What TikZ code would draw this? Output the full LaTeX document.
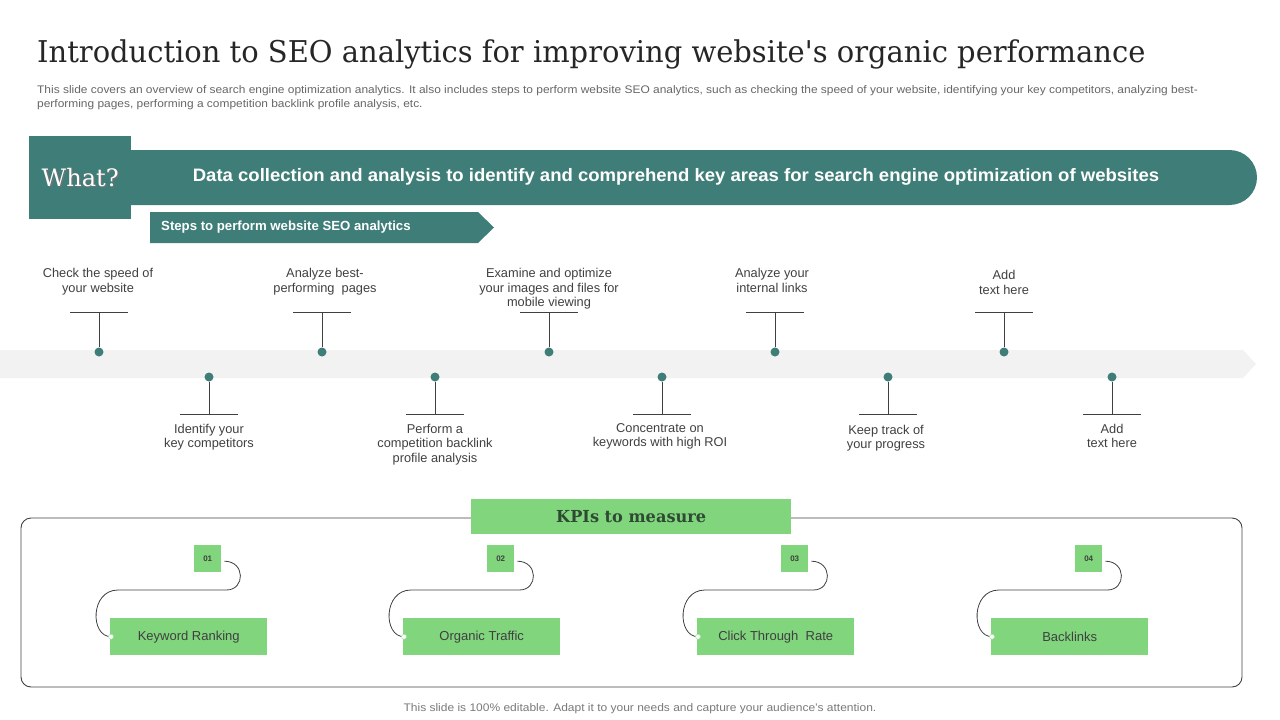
\documentclass[tikz,border=0pt]{standalone}
\usepackage{fontspec}
\setmainfont{Liberation Sans}
\newfontfamily\slab{DejaVu Serif}
\definecolor{tealc}{HTML}{3F7E78}
\definecolor{greenc}{HTML}{80D57D}
\definecolor{bandc}{HTML}{F2F2F2}
\definecolor{txtc}{HTML}{404040}
\definecolor{kpitxt}{HTML}{2F4A33}
\newcommand{\fs}[2]{\fontsize{#1}{#2}\selectfont}
\begin{document}
\begin{tikzpicture}[x=1pt,y=-1pt,
  itemtext/.style={align=center,inner sep=0pt,font=\fs{12.8}{14.5},text=txtc},
  dotc/.style={circle,fill=tealc,minimum size=9pt,inner sep=0pt},
  stem/.style={draw=txtc,line width=0.8pt},
  numbox/.style={fill=greenc,minimum width=27pt,minimum height=27pt,inner sep=0pt,font=\bfseries\fs{8}{9},text=txtc},
  kpibox/.style={fill=greenc,minimum width=157pt,minimum height=37pt,inner sep=0pt,font=\fs{13}{15},text=txtc},
  curvec/.style={draw=txtc,line width=0.8pt},
  endc/.style={circle,fill=white,draw=greenc!70!white,line width=0.5pt,minimum size=5pt,inner sep=0pt}]
\useasboundingbox (0,0) rectangle (1280,720);
% title
\node[anchor=west,inner sep=0pt,text=black!85] (title) at (37,54)
  {\scalebox{0.965}[1]{\slab\fs{30}{32}Introduction to SEO analytics for improving website's organic performance}};
\node[anchor=north west,inner sep=0pt,align=left,text=txtc!80] (sub) at (37,83)
  {\scalebox{1.085}[1]{\fs{11}{14}\begin{tabular}{@{}l@{}}This slide covers an overview of search engine optimization analytics. It also includes steps to perform website SEO analytics, such as checking the speed of your website, identifying your key competitors, analyzing best-\\performing pages, performing a competition backlink profile analysis, etc.\end{tabular}}};
% banner
\fill[tealc] (131,150) -- (1229.5,150) arc[start angle=-90,end angle=90,radius=27.5] -- (131,205) -- cycle;
\node[fill=tealc,minimum width=102pt,minimum height=83pt,inner sep=0pt,anchor=north west] (what) at (29,136) {};
\node[text=black!55,font=\slab\fs{24}{26}] at ([xshift=1.3pt,yshift=-1.3pt]what.center) {What?};
\node[text=white,font=\slab\fs{24}{26}] (whatt) at (what.center) {What?};
\node[text=white,font=\bfseries\fs{18}{20},inner sep=0pt] (bantxt) at (676,177)
  {\scalebox{1.03}[1]{Data collection and analysis to identify and comprehend key areas for search engine optimization of websites}};
% steps ribbon
\fill[tealc] (150,212) -- (478,212) -- (494,227.5) -- (478,243) -- (150,243) -- cycle;
\node[anchor=west,text=white,font=\bfseries\fs{13.2}{15},inner sep=0pt] (steps) at (161,227.5) {Steps to perform website SEO analytics};
% band
\fill[bandc] (0,350) -- (1243,350) -- (1256,364) -- (1243,378) -- (0,378) -- cycle;
% top items
\foreach \i/\x in {1/99,3/322,5/549,7/775,9/1004}{
  \node[dotc] (d\i) at (\x,352) {};
  \coordinate (h\i) at (\x,312);
  \draw[stem] (d\i) -- (h\i);
  \draw[stem] ([xshift=-29pt]h\i) -- ([xshift=29pt]h\i);
}
\node[itemtext,anchor=north] (t1) at (98,268.5) {Check the speed of\\your website};
\node[itemtext,anchor=north] (t3) at (325,268.5) {Analyze best-\\performing\ \ pages};
\node[itemtext,anchor=north] (t5) at (549,268.5) {Examine and optimize\\your images and files for\\mobile viewing};
\node[itemtext,anchor=north] (t7) at (772,268.5) {Analyze your\\internal links};
\node[itemtext,anchor=north] (t9) at (1004,270.5) {Add\\text here};
% bottom items
\foreach \i/\x in {2/209,4/435,6/662,8/888,10/1112}{
  \node[dotc] (d\i) at (\x,377) {};
  \coordinate (h\i) at (\x,414);
  \draw[stem] (d\i) -- (h\i);
  \draw[stem] ([xshift=-29pt]h\i) -- ([xshift=29pt]h\i);
}
\node[itemtext,anchor=north] (t2) at (209,424) {Identify your\\key competitors};
\node[itemtext,anchor=north] (t4) at (435,424) {Perform a\\competition backlink\\profile analysis};
\node[itemtext,anchor=north] (t6) at (660,423) {Concentrate on\\keywords with high ROI};
\node[itemtext,anchor=north] (t8) at (886,425) {Keep track of\\your progress};
\node[itemtext,anchor=north] (t10) at (1112,424) {Add\\text here};
% KPI frame
\draw[draw=txtc,line width=0.9pt,rounded corners=10pt] (21,518) rectangle (1242,687);
\node[fill=greenc,minimum width=320pt,minimum height=35pt,inner sep=0pt,anchor=north west] (kpih) at (471,499) {};
\node[text=kpitxt,font=\slab\bfseries\fs{16.5}{18}] (kpit) at (kpih.center) {\scalebox{0.98}[1]{KPIs to measure}};
% KPI items
\foreach \i/\L/\t in {1/110/Keyword Ranking,2/403/Organic Traffic,3/697/Click Through\ \ Rate,4/991/Backlinks}{
  \node[numbox,anchor=north west] (n\i) at (\L+84,545) {0\i};
  \node[kpibox,anchor=north west] (k\i) at (\L,618) {\t};
  \coordinate (s\i) at ([xshift=3pt,yshift=-2.5pt]n\i.east);
  \coordinate (e\i) at ([xshift=1pt]k\i.west);
  \draw[curvec] (s\i) .. controls +(21,0) and +(19,0) .. ([xshift=5pt]n\i.east |- 0,590)
     -- (\L+8,590) .. controls +(-28,0) and +(-21,0) .. (e\i);
  \node[endc] (c\i) at (e\i) {};
}
% footer
\node[text=txtc!70,inner sep=0pt] (foot) at (640,709) {\scalebox{1.09}[1]{\fs{11}{12}This slide is 100\% editable. Adapt it to your needs and capture your audience's attention.}};
\end{tikzpicture}
\end{document}
